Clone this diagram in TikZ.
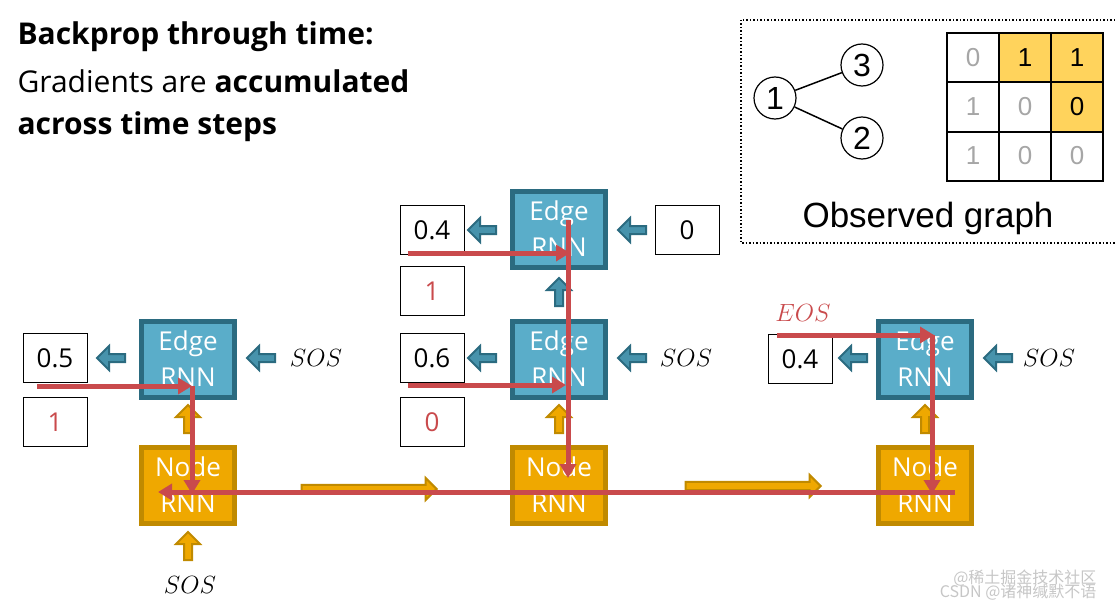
\documentclass[tikz,border=0pt]{standalone}
\usepackage{fontspec}
\setmainfont{Open Sans}
\newfontfamily\hel{Liberation Sans}
\newfontfamily\cjk{Noto Sans CJK SC}
\usetikzlibrary{shapes.arrows,arrows.meta}
\definecolor{eblue}{HTML}{5AADC9}
\definecolor{eborder}{HTML}{2B6B80}
\definecolor{ngold}{HTML}{EFA800}
\definecolor{nborder}{HTML}{C08A00}
\definecolor{gred}{HTML}{C94A4C}
\definecolor{cellY}{HTML}{FFD35C}
\tikzset{
 edge/.style={draw=eborder,line width=5pt,fill=eblue,minimum width=93pt,minimum height=76pt,text=white,font=\fontsize{26}{36}\selectfont,align=center,inner sep=0pt},
 nrnn/.style={edge,draw=nborder,fill=ngold},
 val/.style={draw,line width=1pt,minimum width=64pt,minimum height=49pt,font=\fontsize{26}{28}\selectfont,inner sep=0pt},
 bl/.style={single arrow,draw=eborder,fill=eblue!60!eborder,line width=2pt,minimum height=28pt,minimum width=24pt,single arrow head extend=6pt,inner sep=2pt,shape border rotate=180},
 gu/.style={single arrow,draw=nborder,fill=ngold,line width=2pt,minimum height=28pt,minimum width=24pt,single arrow head extend=6pt,inner sep=2pt,shape border rotate=90},
 gr/.style={single arrow,draw=nborder,fill=ngold,line width=2pt,minimum height=135pt,minimum width=22pt,single arrow head extend=4pt,inner sep=1.5pt},
 sos/.style={font=\fontsize{28}{30}\selectfont},
 red/.style={draw=gred,line width=5pt,-{Triangle[length=14pt,width=16pt]}},
 gn/.style={circle,draw,line width=1.2pt,minimum size=42pt,inner sep=0pt,font=\hel\fontsize{32}{34}\selectfont},
 cell/.style={draw,line width=2pt,minimum width=52pt,minimum height=49pt,font=\hel\fontsize{26}{28}\selectfont,inner sep=0pt,text=gray!70},
}
\begin{document}
\begin{tikzpicture}[x=1pt,y=-1pt]
\useasboundingbox (0,0) rectangle (1115,607);
% title
\node[anchor=west,font=\fontsize{30}{34}\selectfont\bfseries] (t1) at (14,37) {Backprop through time:};
\node[anchor=west,font=\fontsize{30}{34}\selectfont] (t2) at (14,81) {Gradients are \textbf{accumulated}};
\node[anchor=west,font=\fontsize{30}{34}\selectfont\bfseries] (t3) at (14,127) {across time steps};
% observed graph
\draw[dotted,line width=1.5pt] (741,20) rectangle (1118,243);
\node[gn] (g1) at (775,98) {1};
\node[gn] (g3) at (862,65) {3};
\node[gn] (g2) at (862,138) {2};
\draw[line width=1.5pt] (g1) -- (g3);
\draw[line width=1.5pt] (g1) -- (g2);
\node[cell] (c00) at (973,58) {0};
\node[cell,fill=cellY,text=black] (c01) at (1025,58) {1};
\node[cell,fill=cellY,text=black] (c02) at (1077,58) {1};
\node[cell] (c10) at (973,107) {1};
\node[cell] (c11) at (1025,107) {0};
\node[cell,fill=cellY,text=black] (c12) at (1077,107) {0};
\node[cell] (c20) at (973,156) {1};
\node[cell] (c21) at (1025,156) {0};
\node[cell] (c22) at (1077,156) {0};
\node[font=\hel\fontsize{35}{38}\selectfont] (og) at (928,218) {Observed graph};
% RNN boxes
\node[edge] (e1) at (188,359) {Edge\\RNN};
\node[nrnn] (n1) at (188,485) {Node\\RNN};
\node[edge] (e2t) at (559,229) {Edge\\RNN};
\node[edge] (e2) at (559,359) {Edge\\RNN};
\node[nrnn] (n2) at (559,485) {Node\\RNN};
\node[edge] (e3) at (925,359) {Edge\\RNN};
\node[nrnn] (n3) at (925,485) {Node\\RNN};
% values
\node[val] (v1) at (55,358) {0.5};
\node[val,text=gred] (v1b) at (55,422) {1};
\node[val] (v2t) at (432,230) {0.4};
\node[val,text=gred] (v2tb) at (432,291) {1};
\node[val] (v2) at (432,358) {0.6};
\node[val,text=gred] (v2b) at (432,422) {0};
\node[val] (v2r) at (687,230) {0};
\node[val] (v3) at (800,359) {0.4};
% small arrows
\node[bl] (a1) at (113,358) {};
\node[bl] (a2) at (263,358) {};
\node[sos] (s1) at (316,358) {$SOS$};
\node[bl] (a3) at (484,230) {};
\node[bl] (a4) at (634,230) {};
\node[bl,shape border rotate=90] (a5) at (559,294) {};
\node[bl] (a6) at (484,358) {};
\node[bl] (a7) at (634,358) {};
\node[sos] (s2) at (686,358) {$SOS$};
\node[bl] (a8) at (855,358) {};
\node[bl] (a9) at (1000,358) {};
\node[sos] (s3) at (1049,358) {$SOS$};
\node[gu] (u1) at (188,421) {};
\node[gu] (u2) at (559,421) {};
\node[gu] (u3) at (925,421) {};
\node[gu] (u4) at (188,548) {};
\node[sos] (s4) at (190,585) {$SOS$};
\node[gr] (r1) at (367,489) {};
\node[gr] (r2) at (751,486) {};
\node[sos,text=gred] (eos) at (803,313) {$EOS$};
% red gradient paths
\coordinate (p1) at (37,386);
\coordinate (q1) at (192,386);
\coordinate (q1b) at (192,494);
\draw[red] (p1) -- (q1);
\draw[red] (q1) -- (q1b);
\coordinate (p2) at (955,492);
\coordinate (q2) at (158,492);
\draw[red] (p2) -- (q2);
\coordinate (p3) at (408,253);
\coordinate (q3) at (570,253);
\draw[red] (p3) -- (q3);
\coordinate (p4) at (568,220);
\coordinate (q4) at (568,478);
\draw[red] (p4) -- (q4);
\coordinate (p5) at (408,385);
\coordinate (q5) at (566,385);
\draw[red] (p5) -- (q5);
\coordinate (p6) at (777,335);
\coordinate (q6) at (934,335);
\coordinate (q6s) at (932,335);
\coordinate (q6b) at (932,494);
\draw[red] (p6) -- (q6);
\draw[red] (q6s) -- (q6b);
% watermark
\node[text=gray!45,font=\cjk\fontsize{16}{18}\selectfont,anchor=east] (w1) at (1100,578) {@稀土掘金技术社区};
\node[text=gray!45,font=\cjk\fontsize{16}{18}\selectfont,anchor=east] (w2) at (1100,592) {CSDN @诸神缄默不语};
\end{tikzpicture}
\end{document}
